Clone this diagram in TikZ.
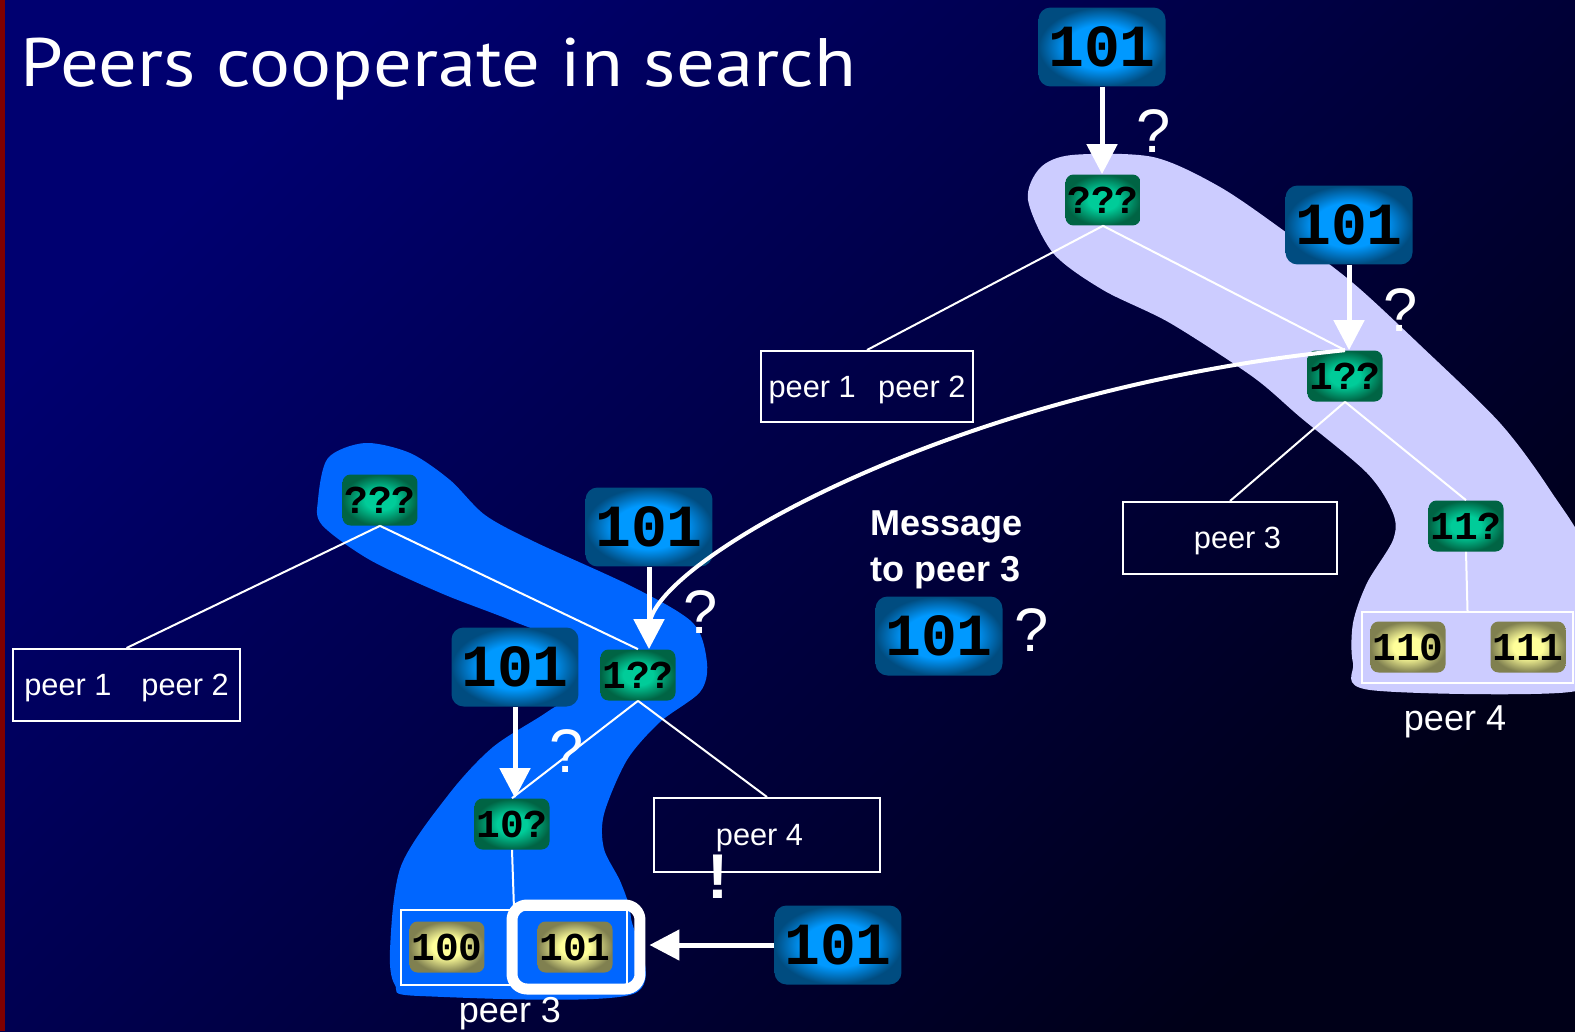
\documentclass[tikz,border=0pt]{standalone}
\usepackage{fontspec}
\setmainfont{Liberation Sans}
\newfontfamily\monofont{Liberation Mono}
\newfontfamily\titlefont{PT Sans}
\usepackage{tikz}
\usetikzlibrary{arrows.meta,positioning}
\usepackage{xcolor}
\definecolor{bgtop}{RGB}{0,0,112}
\definecolor{bgbot}{RGB}{0,0,24}
\definecolor{sbred}{RGB}{128,0,0}
\definecolor{peerlav}{RGB}{204,204,255}
\definecolor{peerblue}{RGB}{0,102,255}
\definecolor{keyin}{RGB}{0,153,255}
\definecolor{keyout}{RGB}{0,76,128}
\definecolor{nodein}{RGB}{0,204,153}
\definecolor{nodeout}{RGB}{0,100,68}
\definecolor{leafin}{RGB}{255,255,153}
\definecolor{leafout}{RGB}{128,128,80}
\pgfdeclareradialshading{keyglow}{\pgfpoint{0bp}{0bp}}{color(0bp)=(keyin); color(14bp)=(keyin); color(25bp)=(keyout); color(50bp)=(keyout)}
\pgfdeclareradialshading{nodeglow}{\pgfpoint{0bp}{0bp}}{color(0bp)=(nodein); color(10bp)=(nodein); color(25bp)=(nodeout); color(50bp)=(nodeout)}
\pgfdeclareradialshading{leafglow}{\pgfpoint{0bp}{0bp}}{color(0bp)=(leafin); color(10bp)=(leafin); color(25bp)=(leafout); color(50bp)=(leafout)}
\tikzstyle{keybox} = [rounded corners=0.24cm, shading=keyglow, minimum width=2.54cm, minimum height=1.58cm, inner sep=0pt, font=\monofont\bfseries\fontsize{34}{34}\selectfont]
\tikzstyle{treenode} = [rounded corners=0.16cm, shading=nodeglow, minimum width=1.5cm, minimum height=1.02cm, inner sep=0pt, font=\monofont\bfseries\fontsize{22.5}{22.5}\selectfont]
\tikzstyle{leaf} = [treenode, shading=leafglow]
\tikzstyle{peerbox} = [draw=white, line width=0.04cm, text=white, inner sep=0pt, text depth=0pt, font=\fontsize{17.5}{21}\selectfont]
\tikzstyle{peerlabel} = [text=white, inner sep=0pt, font=\fontsize{20.5}{24}\selectfont]
\tikzstyle{ask} = [text=white, inner sep=0pt, font=\fontsize{35}{35}\selectfont]
\tikzstyle{branch} = [white, line width=0.04cm]
\tikzstyle{query} = [white, line width=0.1cm, -{Triangle[length=0.6cm,width=0.6cm]}]

\begin{document}
\begin{tikzpicture}[x=0.02cm, y=-0.02cm]
\useasboundingbox (0,0) rectangle (1575,1031);
% Background
\shade[top color=bgtop, bottom color=bgbot, shading angle=45] (0,0) rectangle (1575,1031);
\fill[sbred] (0,0) rectangle (5,1031);

% Regions held by peer 4 and peer 3
\begin{scope}
\clip (0,0) rectangle (1575,1031);
\fill[peerlav] plot[smooth cycle] coordinates {(1028,200) (1040,168) (1072,155) (1153,157) (1220,187) (1287,233) (1353,283) (1420,345) (1500,423) (1550,490) (1590,560) (1592,660) (1570,692) (1370,690) (1353,663) (1353,623) (1367,583) (1393,540) (1393,513) (1367,473) (1300,417) (1253,377) (1170,323) (1103,290) (1053,253)};
\fill[peerblue] plot[smooth cycle] coordinates {(318,500) (328,458) (365,443) (410,453) (450,480) (485,515) (535,542) (633,587) (693,623) (707,663) (700,692) (660,722) (627,760) (604,814) (604,849) (621,883) (631,918) (633,994) (420,996) (395,985) (390,950) (401,866) (449,794) (493,747) (547,712) (572,690) (550,640) (510,620) (443,594) (370,560) (322,525)};
\end{scope}

% Title
\node[anchor=base west, inner sep=0pt, text=white, font=\titlefont\fontsize{39}{47}\selectfont] (title) at (20,86) {\scalebox{1.12}[1]{Peers cooperate in search}};

% Right tree
\node[treenode] (r0) at (1103,200) {???};
\node[treenode] (r1) at (1345,376) {1??};
\node[treenode] (r11) at (1466,526) {11?};
\node[peerbox, minimum width=4.24cm, minimum height=1.42cm] (rp12) at (867,386.5) {peer 1\hspace{0.45cm}peer 2};
\node[peerbox, minimum width=4.28cm, minimum height=1.44cm] (rp3) at (1230,538) {\hspace*{0.3cm}peer 3};
\node[peerbox, minimum width=4.22cm, minimum height=1.42cm] (rleaves) at (1467.5,647.5) {};
\node[leaf] (r110) at (1408,647) {110};
\node[leaf] (r111) at (1528,647) {111};
\node[peerlabel] (rname) at (1455,722) {peer 4};

% Left tree
\node[treenode] (l0) at (380,500) {???};
\node[treenode] (l1) at (638,675) {1??};
\node[treenode] (l10) at (512,824) {10?};
\node[peerbox, minimum width=4.54cm, minimum height=1.44cm] (lp12) at (126.5,685) {peer 1\hspace{0.6cm}peer 2};
\node[peerbox, minimum width=4.52cm, minimum height=1.48cm] (lp4) at (767,835) {peer 4\hspace*{0.3cm}};
\node[peerbox, minimum width=4.52cm, minimum height=1.5cm] (lleaves) at (514,947.5) {};
\node[leaf] (l100) at (447,947) {100};
\node[leaf] (l101) at (575,947) {101};
\node[draw=white, line width=0.22cm, rounded corners=0.3cm, minimum width=2.56cm, minimum height=1.68cm] (hit) at (576,947) {};
\node[peerlabel] (lname) at (510,1014) {peer 3};

% Tree edges
\draw[branch] (r0.south) -- (rp12.north);
\draw[branch] (r0.south) -- (r1.north);
\draw[branch] (r1.south) -- (rp3.north);
\draw[branch] (r1.south) -- (r11.north);
\draw[branch] (r11.south) -- (rleaves.north);
\draw[branch] (l0.south) -- (lp12.north);
\draw[branch] (l0.south) -- (l1.north);
\draw[branch] (l1.south) -- (l10.north);
\draw[branch] (l1.south) -- (lp4.north);
\draw[branch] (l10.south) -- (lleaves.north);

% Keys
\node[keybox] (k1) at (1102,47) {101};
\node[keybox] (k2) at (1349,225) {101};
\node[keybox] (k3) at (649,527) {101};
\node[keybox] (k4) at (515,667) {101};
\node[keybox] (k5) at (939,636) {101};
\node[keybox] (k6) at (838,945) {101};

% Lookups
\coordinate (merge) at (650,622);
\draw[white, line width=0.08cm] (r1.north) .. controls (950,390) and (660,560) .. (merge);
\draw[query] (k1.south) -- (k1.south |- r0.north);
\draw[query] (k2.south) -- (k2.south |- r1.north);
\draw[query] (k3.south) -- (k3.south |- l1.north);
\draw[query] (k4.south) -- (k4.south |- l10.north);
\draw[query, shorten >=0.08cm] (k6.west) -- (k6.west -| hit.east);

% Message
\node[text=white, align=left, anchor=north west, inner sep=0pt, font=\bfseries\fontsize{20.5}{26.5}\selectfont] (msg) at (870,510) {Message\\to peer 3};

% Question marks
\node[ask] (q1) at (1154,131) {?};
\node[ask] (q2) at (1401,310) {?};
\node[ask] (q3) at (701,612) {?};
\node[ask] (q4) at (567,751) {?};
\node[ask] (q5) at (1032,630) {?};
\node[ask, font=\bfseries\fontsize{36}{36}\selectfont] (bang) at (718,877) {!};
\end{tikzpicture}
\end{document}
